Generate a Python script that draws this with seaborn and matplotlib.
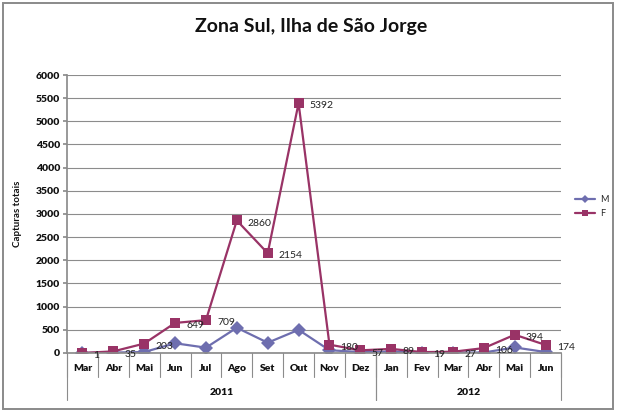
import matplotlib
matplotlib.use("Agg")
import matplotlib.pyplot as plt
import matplotlib.transforms as mtransforms
from matplotlib.patches import Rectangle
import seaborn as sns
import pandas as pd

months = ["Mar", "Abr", "Mai", "Jun", "Jul", "Ago", "Set", "Out", "Nov", "Dez",
          "Jan", "Fev", "Mar", "Abr", "Mai", "Jun"]
years = ["2011", "2012"]
year_spans = [(0, 9), (10, 15)]
yticks = list(range(0, 6001, 500))
m_values = [0, 10, 20, 210, 115, 545, 222, 500, 60, 20, 30, 10, 10, 10, 120, 20]
f_values = [1, 35, 203, 649, 709, 2860, 2154, 5392, 180, 57, 89, 19, 27, 106, 394, 174]

sns.set_theme(style="white")
plt.rcParams["font.family"] = ["Lato", "DejaVu Sans"]

n = len(months)
df = pd.DataFrame({
    "x": list(range(n)) * 2,
    "val": m_values + f_values,
    "serie": ["M"] * n + ["F"] * n,
})

fig = plt.figure(figsize=(6.22, 4.13), dpi=100)
fig.patches.append(Rectangle((3 / 622, 4 / 413), 610 / 622, 406 / 413, transform=fig.transFigure,
                             fill=False, edgecolor="#8a8a8a", linewidth=1.4))
ax = fig.add_axes([0.1077, 0.1453, 0.7943, 0.6731])

colors = {"M": "#6E6EAF", "F": "#993366"}
sns.lineplot(data=df, x="x", y="val", hue="serie", style="serie",
             markers={"M": "D", "F": "s"}, dashes=False, palette=colors,
             linewidth=1.6, markersize=7, markeredgewidth=0, ax=ax, legend=True)

ax.set_xlim(-0.5, n - 0.5)
ax.set_ylim(0, 6000)
ax.set_yticks(yticks, labels=[str(t) for t in yticks], fontweight="heavy",
              fontsize=7.5, color="#111111")
ax.yaxis.grid(True, color="#8c8c8c", linewidth=0.8)
ax.set_axisbelow(True)
for s in ["top", "right"]:
    ax.spines[s].set_visible(False)
ax.spines["left"].set_color("#8c8c8c")
ax.spines["bottom"].set_color("#8c8c8c")
ax.tick_params(axis="y", length=3, color="#8c8c8c", left=True, pad=2)
ax.set_xticks([])
ax.set_xlabel("")
ax.set_ylabel("Capturas totais", fontsize=7, fontweight="bold", labelpad=10, color="#111111")

# data labels for F
for i, v in enumerate(f_values):
    ax.annotate(str(v), (i, v), xytext=(8, -2), textcoords="offset points",
                fontsize=7.5, va="center", ha="left", color="#222222")

# multi-level category axis
trans = mtransforms.blended_transform_factory(ax.transData, ax.transAxes)
month_bottom = -0.086
year_bottom = -0.169
for i in range(n + 1):
    ax.plot([i - 0.5, i - 0.5], [0, month_bottom], transform=trans,
            color="#8c8c8c", linewidth=0.8, clip_on=False)
for i, m in enumerate(months):
    ax.text(i, -0.056, m, transform=trans, ha="center", va="center",
            fontsize=7.5, fontweight="heavy", color="#111111")
for (a, b), yname in zip(year_spans, years):
    for xe in (a - 0.5, b + 0.5):
        ax.plot([xe, xe], [0, year_bottom], transform=trans,
                color="#8c8c8c", linewidth=0.8, clip_on=False)
    ax.text((a + b) / 2, -0.143, yname, transform=trans, ha="center", va="center",
            fontsize=7.5, fontweight="heavy", color="#111111")

# legend
handles, labels = ax.get_legend_handles_labels()
leg = ax.legend(handles, labels, loc="center left", bbox_to_anchor=(0.925, 0.5),
                bbox_transform=fig.transFigure, frameon=False, fontsize=6.5,
                handlelength=2.2, handletextpad=0.5, labelspacing=0.6, markerscale=0.6,
                borderaxespad=0, borderpad=0)

fig.text(0.5, 0.935, "Zona Sul, Ilha de São Jorge", ha="center", va="center",
         fontsize=14, fontweight="bold", color="#111111")

fig.savefig("out.png", dpi=100)
